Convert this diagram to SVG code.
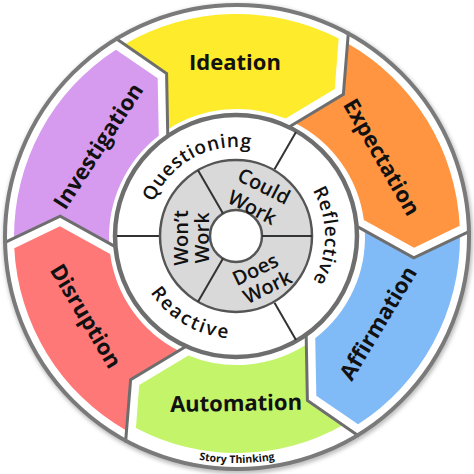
<svg xmlns="http://www.w3.org/2000/svg" width="474" height="474" viewBox="0 0 474 474">
<defs>
<style>
.seg{stroke:none}
.lbl{font-family:"Open Sans","Liberation Sans",sans-serif;font-weight:700;font-size:22px;fill:#111;text-anchor:middle}
.mid{font-family:"Open Sans","Liberation Sans",sans-serif;font-weight:600;font-size:19px;fill:#111}
.inn{font-family:"Open Sans","Liberation Sans",sans-serif;font-weight:600;font-size:20px;fill:#111;text-anchor:middle}
.div{fill:none;stroke:#6e6e6e;stroke-width:3;stroke-linejoin:miter}
.sep{stroke:#333;stroke-width:2}
</style>
<path id="segN" d="M222.76,10.32 A223,223 0 0 1 111.10,193.36 L70.91,162.61 L72.83,105.26 A128,128 0 0 0 128.00,0.43 L175.45,29.99 Z"/>
<path id="segG" d="M215.59,13.30 A216,216 0 0 1 105.05,188.73 L70.91,162.61 L72.83,105.26 A128,128 0 0 0 128.00,0.43 L175.45,29.99 Z"/>
<path id="dv" d="M233.5,6.1 L175.45,29.99 L119.91,-4.61"/>
<path id="pQ" d="M147.01,234.45 A89,89 0 0 1 281.84,159.71"/>
<path id="pRf" d="M280.5,158.92 A89,89 0 0 1 280.5,313.08"/>
<path id="pRa" d="M133.5,236 A102.5,102.5 0 0 0 287.25,324.77"/>
<path id="pST" d="M41.28,350 A226,226 0 0 0 432.72,350"/>
<filter id="sh" x="-10%" y="-10%" width="120%" height="120%">
<feGaussianBlur stdDeviation="2"/>
</filter>
</defs>
<rect width="474" height="474" fill="#fff"/>
<circle cx="238" cy="239" r="232" fill="none" stroke="#000" stroke-opacity="0.3" stroke-width="5" filter="url(#sh)"/>
<circle cx="237" cy="237" r="232" fill="#fff"/>

<g id="ideation">
<use href="#segN" transform="translate(237,237) rotate(237)" fill="#FDEB2C"/>
<text class="lbl" transform="translate(235,62.5)" dy="0.36em">Ideation</text>
</g>
<g id="expectation">
<use href="#segN" transform="translate(237,237) rotate(297)" fill="#FF9540"/>
<text class="lbl" transform="translate(382,157) rotate(60)" dy="0.36em">Expectation</text>
</g>
<g id="affirmation">
<use href="#segN" transform="translate(237,237) rotate(357)" fill="#80BAF7"/>
<text class="lbl" transform="translate(378,323) rotate(-59)" dy="0.36em">Affirmation</text>
</g>
<g id="automation">
<use href="#segG" transform="translate(237,237) rotate(57)" fill="#C4F46A"/>
<text class="lbl" transform="translate(236,403) rotate(-1)" dy="0.36em">Automation</text>
</g>
<g id="disruption">
<use href="#segN" transform="translate(237,237) rotate(117)" fill="#FF7878"/>
<text class="lbl" transform="translate(86,316) rotate(59)" dy="0.36em">Disruption</text>
</g>
<g id="investigation">
<use href="#segN" transform="translate(237,237) rotate(177)" fill="#D69BEF"/>
<text class="lbl" transform="translate(98,146) rotate(-57)" dy="0.36em">Investigation</text>
</g>

<g id="connectors">
<use href="#dv" class="div" transform="translate(237,237) rotate(237)"/>
<use href="#dv" class="div" transform="translate(237,237) rotate(297)"/>
<use href="#dv" class="div" transform="translate(237,237) rotate(357)"/>
<use href="#dv" class="div" transform="translate(237,237) rotate(57)"/>
<use href="#dv" class="div" transform="translate(237,237) rotate(117)"/>
<use href="#dv" class="div" transform="translate(237,237) rotate(177)"/>
</g>

<circle cx="237" cy="237" r="232" fill="none" stroke="#7a7a7a" stroke-width="4"/>

<g id="middle-ring">
<circle cx="236" cy="236" r="121" fill="#fff" stroke="#6e6e6e" stroke-width="4.5"/>
<line class="sep" x1="274.5" y1="169.3" x2="296" y2="132.1"/>
<line class="sep" x1="274.5" y1="302.7" x2="296" y2="339.9"/>
<line class="sep" x1="159" y1="236" x2="117" y2="236"/>
</g>
<g id="questioning"><text class="mid" letter-spacing="0.8"><textPath href="#pQ" startOffset="50%" text-anchor="middle">Questioning</textPath></text></g>
<g id="reflective"><text class="mid" letter-spacing="0.6"><textPath href="#pRf" startOffset="50%" text-anchor="middle">Reflective</textPath></text></g>
<g id="reactive"><text class="mid" letter-spacing="2.2"><textPath href="#pRa" startOffset="50%" text-anchor="middle">Reactive</textPath></text></g>

<g id="inner-ring">
<circle cx="236" cy="236" r="76" fill="#D9D9D9" stroke="#555" stroke-width="2.5"/>
<circle cx="236" cy="236" r="26" fill="#fff" stroke="#555" stroke-width="2.5"/>
<line class="sep" x1="262" y1="236" x2="312" y2="236"/>
<line class="sep" x1="223" y1="258.5" x2="198" y2="301.8"/>
<line class="sep" x1="223" y1="213.5" x2="198" y2="170.2"/>
</g>
<g id="could-work">
<text class="inn" transform="translate(264,186) rotate(27)" dy="0.36em">Could</text>
<text class="inn" transform="translate(252.3,207.3) rotate(27)" dy="0.36em">Work</text>
</g>
<g id="does-work">
<text class="inn" transform="translate(255.3,269.3) rotate(-26)" dy="0.36em">Does</text>
<text class="inn" transform="translate(267.3,286.7) rotate(-26)" dy="0.36em">Work</text>
</g>
<g id="wont-work">
<text class="inn" transform="translate(181,238) rotate(-90)" dy="0.36em">Won’t</text>
<text class="inn" transform="translate(202,238) rotate(-90)" dy="0.36em">Work</text>
</g>

<g id="credit"><text font-family="Open Sans, Liberation Sans, sans-serif" font-weight="700" font-size="10.5" fill="#111"><textPath href="#pST" startOffset="50%" text-anchor="middle">Story Thinking</textPath></text></g>
</svg>
